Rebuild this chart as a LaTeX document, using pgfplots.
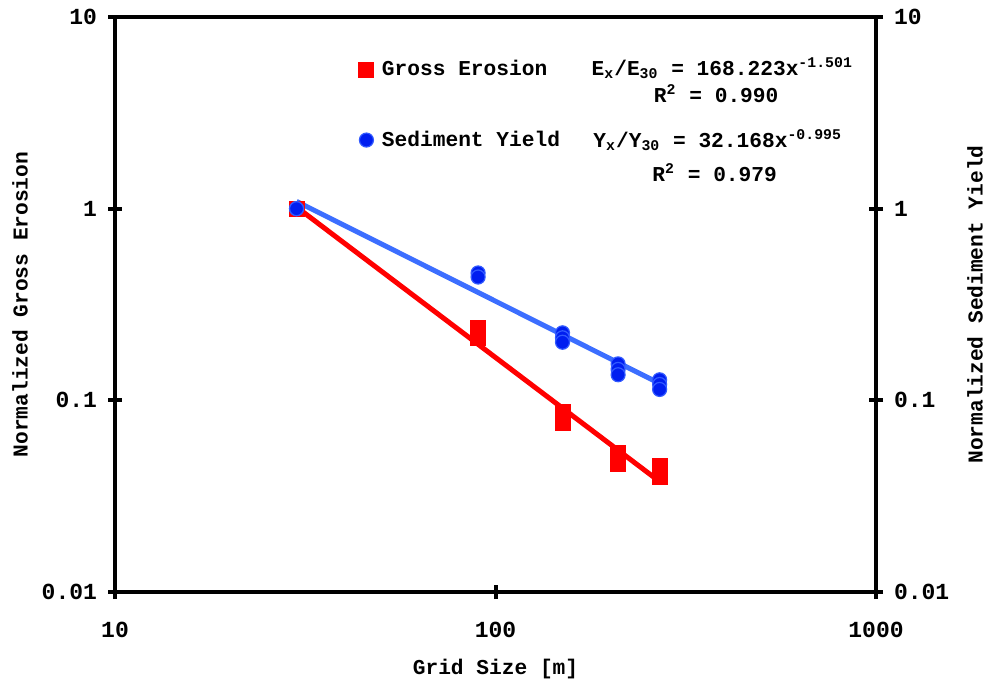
\documentclass[border=0pt]{standalone}
\usepackage{fontspec}
\setmainfont{Liberation Mono}
\usepackage{pgfplots}
\pgfplotsset{compat=1.18}
\definecolor{gered}{RGB}{255,0,0}
\definecolor{syline}{RGB}{60,110,255}
\definecolor{syfill}{RGB}{0,30,240}
\definecolor{syedge}{RGB}{50,90,255}
\begin{document}
\begin{tikzpicture}
\begin{axis}[scale only axis, width=380.5pt, height=287.5pt,
  xmode=log, ymode=log, xmin=10, xmax=1000, ymin=0.01, ymax=10,
  xtick={10,100,1000}, ytick={0.01,0.1,1,10},
  minor xtick={}, minor ytick={}, minor tick length=0pt,
  every minor tick/.style={draw=none},
  major tick length=7pt, tick align=center,
  every major tick/.style={black, line width=2pt},
  axis line style={line width=2pt},
  tick label style={font=\fontsize{11.5}{13}\selectfont\bfseries},
  /pgf/number format/assume math mode=true,
  label style={font=\fontsize{10.6}{12}\selectfont\bfseries},
  name=ax,
  xtick pos=lower, ytick pos=left,
  xticklabels={10,100,1000}, yticklabels={0.01,0.1,1,10},
  yticklabel style={xshift=-2pt},
  xticklabel style={yshift=-8pt},
  xlabel={Grid Size [m]},
  xlabel style={at={(axis description cs:0.5,-0.134)}, anchor=center},
  ylabel={Normalized Gross Erosion},
  ylabel style={at={(axis description cs:-0.1248,0.5)}, anchor=center},
  legend style={at={(axis description cs:0.320,0.932)}, anchor=north west,
    draw=none, fill=none, font=\fontsize{10.6}{12}\selectfont\bfseries,
    row sep=22pt, inner sep=0pt,
    /tikz/every odd column/.append style={column sep=2pt}},
  legend cell align=left,
  legend image code/.code={\path[#1] plot coordinates {(3.8pt,0pt)};},
]
\addplot[only marks, mark=square*, mark size=3.75pt, mark options={fill=gered, draw=gered, line width=0pt}]
coordinates {
(30,1.0) (30,1.0)
(90,0.239) (90,0.225) (90,0.212)
(150,0.0865) (150,0.081) (150,0.0762)
(210,0.0532) (210,0.050) (210,0.0466)
(270,0.0457) (270,0.0425) (270,0.0396)
};
\addlegendentry{Gross Erosion}
\addplot[only marks, mark=*, mark size=3.5pt, mark options={fill=syfill, draw=syedge, line width=0.6pt}]
coordinates {
(30,1.0) (30,1.0)
(90,0.462) (90,0.440)
(150,0.225) (150,0.212) (150,0.201)
(210,0.155) (210,0.145) (210,0.136)
(270,0.128) (270,0.121) (270,0.114)
};
\addlegendentry{Sediment Yield}
\addplot[forget plot, syline, line width=2.5pt] coordinates {(30,1.091) (270,0.1225)};
\addplot[forget plot, gered, line width=2.5pt] coordinates {(30,1.020) (270,0.0377)};
\node[font=\fontsize{10.6}{12}\selectfont\bfseries] at (axis description cs:0.798,0.911)
  {E\textsubscript{x}/E\textsubscript{30} = 168.223x\textsuperscript{-1.501}};
\node[font=\fontsize{10.6}{12}\selectfont\bfseries] at (axis description cs:0.790,0.866)
  {R\textsuperscript{2} = 0.990};
\node[font=\fontsize{10.6}{12}\selectfont\bfseries] at (axis description cs:0.792,0.786)
  {Y\textsubscript{x}/Y\textsubscript{30} = 32.168x\textsuperscript{-0.995}};
\node[font=\fontsize{10.6}{12}\selectfont\bfseries] at (axis description cs:0.788,0.730)
  {R\textsuperscript{2} = 0.979};
\end{axis}
\begin{axis}[scale only axis, width=380.5pt, height=287.5pt,
  xmode=log, ymode=log, xmin=10, xmax=1000, ymin=0.01, ymax=10,
  ytick={0.01,0.1,1,10}, minor ytick={}, minor xtick={}, minor tick length=0pt,
  every minor tick/.style={draw=none},
  major tick length=7pt, tick align=center,
  every major tick/.style={black, line width=2pt},
  axis line style={line width=2pt},
  tick label style={font=\fontsize{11.5}{13}\selectfont\bfseries},
  label style={font=\fontsize{10.6}{12}\selectfont\bfseries},
  at={(ax.south west)}, anchor=south west,
  axis y line*=right, hide x axis,
  yticklabels={0.01,0.1,1,10},
  yticklabel style={xshift=2pt},
  ylabel={Normalized Sediment Yield},
  ylabel style={at={(axis description cs:1.130,0.5)}, anchor=center},
]
\addplot[draw=none] coordinates {(30,1)};
\end{axis}
\pgfresetboundingbox
\path ([xshift=-57.5pt,yshift=-47pt]ax.south west) rectangle ([xshift=57pt,yshift=8.5pt]ax.north east);
\end{tikzpicture}
\end{document}
